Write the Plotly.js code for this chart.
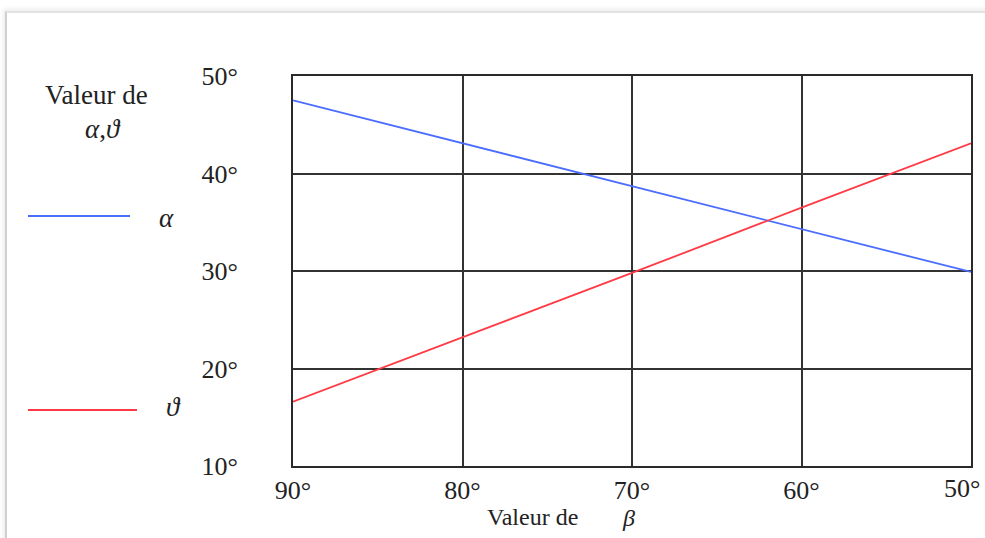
<!DOCTYPE html>
<html>
<head>
<meta charset="utf-8">
<script src="https://cdn.plot.ly/plotly-3.0.1.min.js"></script>
<style>
  html, body { margin: 0; padding: 0; background: #ffffff; }
  #page { position: absolute; left: 5px; top: 11px; width: 1000px; height: 540px;
          border-left: 2px solid #cfcfcf; border-top: 2px solid #e2e2e2;
          box-shadow: -2px -2px 4px rgba(0,0,0,0.08); background: #ffffff; }
  #chart { position: absolute; left: 0; top: 0; width: 985px; height: 538px; }
</style>
</head>
<body>
<div id="page"></div>
<div id="chart"></div>
<script>
// Valeur de beta (x axis, reversed)
const beta = [90, 80, 70, 60, 50];
// alpha (blue) and theta (red), degrees
const alphaVals = [47.5, 43.1, 38.7, 34.3, 29.9];
const thetaVals = [16.6, 23.2, 29.8, 36.5, 43.1];
// tick values and labels
const xTicks = [90, 80, 70, 60, 50];
const yTicks = [10, 20, 30, 40, 50];
const xTickText = ["90°", "80°", "70°", "60°", "50°"];
const yTickText = ["10°", "20°", "30°", "40°", "50°"];

const serif = "Liberation Serif, Times New Roman, DejaVu Serif, serif";
const blue = "#4a6cff";
const red = "#ff3a44";

const traces = [
  { x: beta, y: alphaVals, mode: "lines", name: "α",
    line: { color: blue, width: 1.8 }, showlegend: false },
  { x: beta, y: thetaVals, mode: "lines", name: "ϑ",
    line: { color: red, width: 1.8 }, showlegend: false }
];

// pixel helpers for decorations outside the plot area (plot area: x 293..971, y 76..466)
const L = 293, R = 971, T = 76, B = 466;
const px = v => (v - L) / (R - L);
const py = v => (B - v) / (B - T);

const nX = xTicks.length;
const layout = {
  width: 985, height: 538,
  margin: { l: L, r: 985 - R, t: T, b: 538 - B, pad: 0 },
  paper_bgcolor: "rgba(0,0,0,0)",
  plot_bgcolor: "#ffffff",
  font: { family: serif, color: "#222222", size: 26 },
  xaxis: {
    range: [90, 50], tickmode: "array",
    // last tick label (at the right frame edge) is drawn as an annotation so it stays in view
    tickvals: xTicks.slice(0, nX - 1), ticktext: xTickText.slice(0, nX - 1),
    showgrid: true, gridcolor: "#333333", gridwidth: 2,
    showline: true, linecolor: "#2a2a2a", linewidth: 2, mirror: true,
    zeroline: false, ticks: "", tickfont: { family: serif, size: 26, color: "#222" }
  },
  yaxis: {
    range: [10, 50], tickmode: "array", tickvals: yTicks, ticktext: yTickText,
    ticklabeloverflow: "allow",
    showgrid: true, gridcolor: "#333333", gridwidth: 2,
    showline: true, linecolor: "#2a2a2a", linewidth: 2, mirror: true,
    zeroline: false, ticks: "", ticklabelstandoff: 48,
    tickfont: { family: serif, size: 26, color: "#222" }
  },
  shapes: [
    { type: "line", xref: "paper", yref: "paper",
      x0: px(28), x1: px(130), y0: py(216), y1: py(216),
      line: { color: blue, width: 2 } },
    { type: "line", xref: "paper", yref: "paper",
      x0: px(28), x1: px(137), y0: py(410), y1: py(410),
      line: { color: red, width: 2 } }
  ],
  annotations: [
    { xref: "x", yref: "paper", x: xTicks[nX - 1], y: 0, text: xTickText[nX - 1],
      showarrow: false, xanchor: "right", yanchor: "top", xshift: 11, yshift: -6,
      font: { family: serif, size: 26, color: "#222" } },
    { xref: "paper", yref: "paper", x: px(96), y: py(95), text: "Valeur de",
      showarrow: false, xanchor: "center", yanchor: "middle",
      font: { family: serif, size: 27, color: "#222" } },
    { xref: "paper", yref: "paper", x: px(103), y: py(129), text: "<i>α</i>,<i>ϑ</i>",
      showarrow: false, xanchor: "center", yanchor: "middle",
      font: { family: serif, size: 27, color: "#222" } },
    { xref: "paper", yref: "paper", x: px(166), y: py(218), text: "<i>α</i>",
      showarrow: false, xanchor: "center", yanchor: "middle",
      font: { family: serif, size: 27, color: "#222" } },
    { xref: "paper", yref: "paper", x: px(173), y: py(407), text: "<i>ϑ</i>",
      showarrow: false, xanchor: "center", yanchor: "middle",
      font: { family: serif, size: 27, color: "#222" } },
    { xref: "paper", yref: "paper", x: px(532), y: py(517), text: "Valeur de",
      showarrow: false, xanchor: "center", yanchor: "middle",
      font: { family: serif, size: 24, color: "#222" } },
    { xref: "paper", yref: "paper", x: px(628), y: py(518), text: "<i>β</i>",
      showarrow: false, xanchor: "center", yanchor: "middle",
      font: { family: serif, size: 24, color: "#222" } }
  ]
};

Plotly.newPlot("chart", traces, layout, { displayModeBar: false, staticPlot: true });
</script>
</body>
</html>
